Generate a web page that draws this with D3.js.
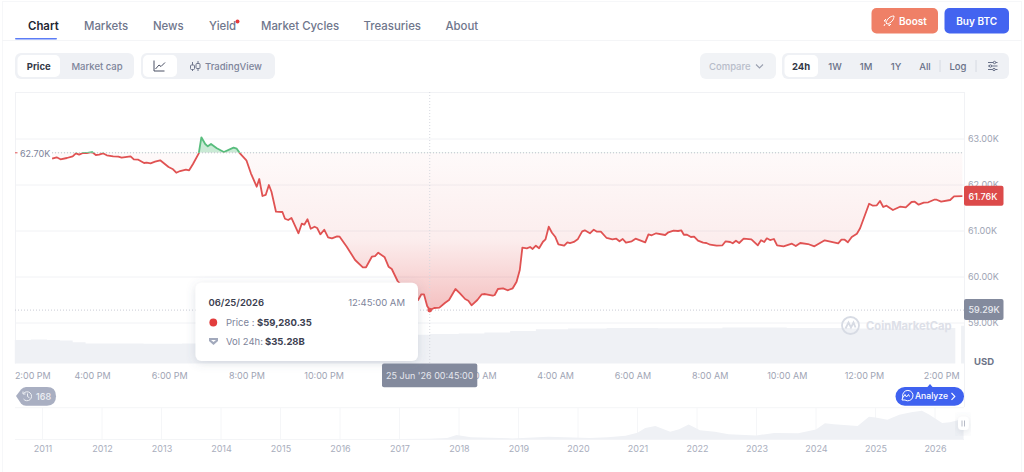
<!DOCTYPE html>
<html>
<head>
<meta charset="utf-8">
<title>Bitcoin price, 24h</title>
<script src="https://cdn.jsdelivr.net/npm/d3@7/dist/d3.min.js"></script>
<style>
  html, body { margin: 0; padding: 0; background: #fff; }
  svg { display: block; font-family: Inter, "Noto Sans", sans-serif; }
  .axis path, .axis line { display: none; }
</style>
</head>
<body>
<svg id="chart" width="1024" height="472"></svg>
<script>
// Minutes after 2:00 PM on 24 Jun 2026, with the USD price at each of them.
const priceMinutes = [58,65,71,81,90,95,100,106,113,120,126,131,137,143,153,161,166,180,185,192,201,205,211,218,226,239,246,251,257,266,271,277,286,290,296,300,305,314,325,340,345,350,360,367,376,380,385,390,395,399,406,416,420,425,430,441,446,450,455,460,466,470,475,481,487,493,501,505,516,529,541,546,555,560,565,575,581,586,595,602,611,619,627,632,636,641,645,652,660,669,675,685,692,700,705,710,719,726,731,743,746,751,759,766,774,780,785,789,796,801,805,810,815,821,825,830,835,840,845,854,859,863,869,875,882,886,894,900,905,911,920,929,935,940,945,950,959,965,980,985,990,997,1011,1016,1024,1031,1036,1040,1045,1051,1056,1062,1070,1075,1081,1091,1100,1105,1112,1116,1121,1126,1133,1145,1155,1160,1165,1169,1174,1180,1185,1195,1208,1214,1221,1233,1243,1259,1280,1285,1290,1295,1301,1309,1314,1328,1334,1340,1345,1350,1355,1365,1376,1385,1394,1399,1405,1413,1420,1429,1433,1440,1454,1460,1473];
const priceValues = [62572,62602,62559,62587,62624,62689,62659,62696,62696,62717,62652,62659,62689,62646,62624,62615,62593,62624,62559,62550,62478,62485,62472,62506,62537,62391,62341,62267,62304,62333,62320,62457,62689,63037,62891,62841,62891,62798,62717,62811,62789,62689,62537,62254,61963,62130,61761,61783,62000,61854,61420,61413,61267,61239,61283,60950,61159,61137,61254,61050,61093,61065,60928,61028,60863,60841,60885,60876,60659,60369,60211,60211,60441,60456,60528,60428,60224,60174,59913,59804,59587,59674,59500,59624,59624,59369,59280.35,59326,59333,59441,59500,59739,59646,59522,59485,59385,59500,59624,59630,59593,59609,59739,59754,59711,59754,59898,60152,60637,60624,60652,60609,60680,60624,60767,60819,61093,60963,60876,60711,60680,60754,60739,60761,60819,60993,61015,60950,61028,60985,60985,60848,60819,60833,60776,60826,60746,60776,60833,60754,60928,60907,60950,60913,60972,61007,61000,61015,60919,60919,60870,60876,60789,60746,60739,60702,60680,60689,60776,60761,60733,60789,60739,60833,60819,60689,60798,60761,60841,60804,60826,60689,60667,60724,60674,60739,60717,60667,60798,60733,60811,60811,60754,60870,60941,61059,61593,61550,61559,61652,61522,61550,61456,61528,61515,61630,61637,61572,61615,61624,61680,61680,61637,61674,61754,61760];

// 24h volume in billions of USD; the null leaves the short gap before the live bar.
const volumeMinutes = [0,25,50,70,90,110,150,200,260,320,400,500,600,645,690,730,770,810,860,920,1000,1100,1200,1300,1400,1462,1463,1471,1476];
const volumeValues = [28.1,28.6,28.1,27.5,25.5,23.9,23.9,23.5,24,26,30,32.5,34.5,35.28,36,37,39,41,42,42.5,42.3,43,42.5,42,42.5,42.8,null,45,45];

// Long-run price history for the navigator, in thousands of USD by decimal year.
const historyYears = [2010.55,2013.9,2014.5,2016.5,2017,2017.5,2017.8,2017.96,2018.2,2018.9,2019.5,2020.2,2020.5,2020.8,2021,2021.13,2021.3,2021.55,2021.7,2021.86,2022.05,2022.3,2022.53,2023,2023.3,2023.7,2024,2024.15,2024.3,2024.7,2024.89,2025,2025.2,2025.4,2025.6,2025.78,2025.9,2026.12,2026.25,2026.48];
const historyValues = [0.1,0.9,0.6,0.7,1,2.6,6,19,9,3.8,11,6,9,15,29,49,58,33,44,65,40,33,22,17,28,26,43,70,66,58,99,95,85,107,118,125,108,71,74,90];

const baselinePrice = 62700;
const hoveredMinute = 645;
const hoveredPrice = 59280.35;
const latestPrice = 61760;

const priceTicks = [59000,60000,61000,62000,63000];
// Hours after 2:00 PM; midnight is left out because the time tag sits on top of it.
const timeTickHours = [0,2,4,6,8,12,14,16,18,20,22,24];
const historyTicks = d3.range(2011, 2027);

const navItems = ["Chart","Markets","News","Yield","Market Cycles","Treasuries","About"];
const navOffsets = [28,84,153,209,261,363.5,445.5];
const rangeItems = ["24h","1W","1M","1Y","All","Log"];
const rangeCentres = [801,835,866,896,925,958];

const INK = "#222531", MUTED = "#7d849a", AXIS = "#9ea4b4", LINE = "#f1f2f5";
const RED = "#e05252", GREEN = "#58bd7d", SLATE = "#838a9d";

const svg = d3.select("#chart");
const plotLeft = 15, plotRight = 964, plotTop = 92, plotBottom = 363.5;

const startOfDay = Date.UTC(2026, 5, 24, 14);
const atMinute = m => new Date(startOfDay + m * 60000);
const x = d3.scaleUtc().domain([atMinute(0), atMinute(1478)]).range([14.8, 965.6]);
const y = d3.scaleLinear().domain([59000, 63000]).range([323, 139]);
const yVol = d3.scaleLinear().domain([0, 35.28]).range([plotBottom, 334]);
const xYear = d3.scaleLinear().domain([2011, 2026]).range([42.5, 935]);
const yHist = d3.scaleLinear().domain([0, 125]).range([439.3, 410.7]);

const series = priceMinutes.map((m, i) => ({ t: atMinute(m), v: priceValues[i] }));
const volume = volumeMinutes.map((m, i) => ({ t: atMinute(m), v: volumeValues[i] }));
const longRun = historyYears.map((yr, i) => ({ yr, v: historyValues[i] }));

function label(g, str, px, py, opts = {}) {
  return g.append("text").attr("x", px).attr("y", py).text(str)
    .attr("font-size", opts.size || 10)
    .attr("font-weight", opts.weight || 400)
    .attr("fill", opts.fill || MUTED)
    .attr("text-anchor", opts.anchor || "start")
    .attr("dominant-baseline", "central");
}
function box(g, x0, y0, x1, y1, fill, r) {
  return g.append("rect").attr("x", x0).attr("y", y0)
    .attr("width", x1 - x0).attr("height", y1 - y0).attr("rx", r).attr("fill", fill);
}
function rule(g, x0, y0, x1, y1, stroke, dash) {
  return g.append("line").attr("x1", x0).attr("y1", y0).attr("x2", x1).attr("y2", y1)
    .attr("stroke", stroke).attr("stroke-dasharray", dash || null);
}

const defs = svg.append("defs");
const shadow = defs.append("filter").attr("id", "soft").attr("x", "-20%").attr("y", "-30%").attr("width", "140%").attr("height", "170%");
shadow.append("feDropShadow").attr("dx", 0).attr("dy", 2).attr("stdDeviation", 5).attr("flood-color", "#58667e").attr("flood-opacity", 0.2);

const redFade = defs.append("linearGradient").attr("id", "redFade")
  .attr("gradientUnits", "userSpaceOnUse")
  .attr("x1", 0).attr("x2", 0).attr("y1", y(baselinePrice)).attr("y2", y(hoveredPrice));
redFade.append("stop").attr("offset", 0).attr("stop-color", "#e04f4f").attr("stop-opacity", 0.03);
redFade.append("stop").attr("offset", 0.55).attr("stop-color", "#e04f4f").attr("stop-opacity", 0.1);
redFade.append("stop").attr("offset", 1).attr("stop-color", "#e04f4f").attr("stop-opacity", 0.36);

defs.append("clipPath").attr("id", "belowBase").append("rect")
  .attr("x", plotLeft).attr("y", y(baselinePrice)).attr("width", plotRight - plotLeft).attr("height", plotBottom - y(baselinePrice));
defs.append("clipPath").attr("id", "aboveBase").append("rect")
  .attr("x", plotLeft).attr("y", plotTop).attr("width", plotRight - plotLeft).attr("height", y(baselinePrice) - plotTop);

// Page frame and header
const page = svg.append("g");
rule(page, 2.5, 1, 2.5, 472, "#f6f7f9");
rule(page, 1021.5, 1, 1021.5, 472, "#f6f7f9");
rule(page, 2, 1.5, 1022, 1.5, "#f6f7f9");
rule(page, 2, 40.5, 1022, 40.5, "#f4f5f7");

navItems.forEach((name, i) => {
  label(page, name, navOffsets[i], 26, { size: 11.4, weight: i ? 500 : 600, fill: i ? "#6f768c" : INK });
});
box(page, 15, 38, 57, 39.6, "#5b7cf6", 0.8);
page.append("circle").attr("cx", 237.5).attr("cy", 21.5).attr("r", 2).attr("fill", "#e5383b");

box(page, 871.5, 8, 938, 33.5, "#ef8067", 5);
label(page, "Boost", 899, 21, { size: 10, weight: 600, fill: "#fff" });
const rocket = page.append("g").attr("transform", "translate(889,21)").attr("fill", "none").attr("stroke", "#fff").attr("stroke-width", 1);
rocket.append("path").attr("d", "M-3 2 C-2 -2 1 -5 5 -5 C5 -1 2 2 -2 3 Z M-3 0 L-5 0 L-3 -2 M0 3 L0 5 L2 3 M-4 3 L-5 5");
box(page, 944.5, 8, 1009, 33.5, "#4364f0", 5);
label(page, "Buy BTC", 976.7, 21, { size: 10, weight: 600, fill: "#fff", anchor: "middle" });

// Toolbar
box(page, 15, 53, 134, 79, "#eff1f5", 6);
box(page, 17.5, 55, 60, 77, "#fff", 5);
label(page, "Price", 38.7, 66, { size: 9.5, weight: 700, fill: "#333846", anchor: "middle" });
label(page, "Market cap", 97, 66, { size: 9.5, weight: 500, anchor: "middle" });

box(page, 141, 53, 275, 79, "#eff1f5", 6);
box(page, 143, 55, 177, 77, "#fff", 5);
page.append("path").attr("d", "M154 60.5 V71 H164.5 M155.5 69 L159 65 L161 66.5 L165 62.5").attr("fill", "none").attr("stroke", "#4a5064").attr("stroke-width", 1);
const candles = page.append("g").attr("fill", "none").attr("stroke", "#6f768c").attr("stroke-width", 1);
candles.append("path").attr("d", "M192.5 62 V71 M198 61 V71");
candles.append("rect").attr("x", 190.5).attr("y", 65).attr("width", 4).attr("height", 4.5).attr("rx", 1).attr("fill", "#eff1f5");
candles.append("rect").attr("x", 196).attr("y", 63.5).attr("width", 4).attr("height", 5).attr("rx", 1).attr("fill", "#eff1f5");
label(page, "TradingView", 205, 66, { size: 9.5, weight: 500 });

box(page, 700, 53, 776, 79, "#f1f3f6", 6);
label(page, "Compare", 709, 66, { size: 9.5, weight: 500, fill: "#b8bdca" });
page.append("path").attr("d", "M756 64.5 L759.5 68 L763 64.5").attr("fill", "none").attr("stroke", "#9aa0b0").attr("stroke-width", 1.1);

box(page, 782, 53, 1009, 79, "#eff1f5", 6);
box(page, 784.5, 55, 818, 77, "#fff", 5);
rangeItems.forEach((name, i) => {
  label(page, name, rangeCentres[i], 66, { size: 9.5, weight: i ? 500 : 700, fill: i ? "#687087" : "#333846", anchor: "middle" });
});
rule(page, 940, 60, 940, 72, "#d6dae2");
rule(page, 976, 60, 976, 72, "#d6dae2");
const sliders = page.append("g").attr("stroke", "#687087").attr("stroke-width", 1).attr("fill", "#eff1f5");
[62.5, 66, 69.5].forEach((py, i) => {
  rule(sliders, 988, py, 997.5, py, "#687087");
  sliders.append("circle").attr("cx", [994.5, 990.5, 994][i]).attr("cy", py).attr("r", 1.2);
});

// Plot frame and price grid
const plot = svg.append("g");
rule(plot, plotLeft, plotTop + 0.5, plotRight, plotTop + 0.5, LINE);
rule(plot, plotLeft + 0.5, plotTop, plotLeft + 0.5, plotBottom, LINE);
rule(plot, plotRight + 0.5, plotTop, plotRight + 0.5, 407, LINE);
plot.selectAll("line.grid").data(priceTicks).join("line").attr("class", "grid")
  .attr("x1", plotLeft).attr("x2", plotRight)
  .attr("y1", d => y(d)).attr("y2", d => y(d)).attr("stroke", LINE);

// Volume
plot.append("path").datum(volume)
  .attr("fill", "#eff1f5")
  .attr("d", d3.area().defined(d => d.v !== null).curve(d3.curveStepAfter)
    .x(d => x(d.t)).y0(plotBottom).y1(d => yVol(d.v)));

// Area between the price and the opening level, split at that level
const baseArea = d3.area().x(d => x(d.t)).y0(y(baselinePrice)).y1(d => y(d.v));
const priceLine = d3.line().x(d => x(d.t)).y(d => y(d.v));
plot.append("path").datum(series).attr("d", baseArea).attr("fill", "url(#redFade)").attr("clip-path", "url(#belowBase)");
plot.append("path").datum(series).attr("d", baseArea).attr("fill", GREEN).attr("fill-opacity", 0.32).attr("clip-path", "url(#aboveBase)");

// Watermark sits under the line work
const logo = plot.append("g").attr("transform", "translate(850.5,325.5)").attr("fill", "none").attr("stroke", "#d7dbe4").attr("stroke-width", 1.8);
logo.append("circle").attr("r", 8.5);
logo.append("path").attr("d", "M-5 3 L-2 -3 L0.5 2 L3 -3 L5 2");
label(plot, "CoinMarketCap", 866, 326, { size: 11.2, weight: 700, fill: "#dde0e8" });

// Opening level and crosshair
rule(plot, 52, y(baselinePrice), plotRight, y(baselinePrice), "#bcc0ca", "1 2");
rule(plot, plotLeft, y(hoveredPrice), plotRight, y(hoveredPrice), "#c9ccd5", "1 2");
rule(plot, x(atMinute(hoveredMinute)), plotTop, x(atMinute(hoveredMinute)), plotBottom, "#d5d8df", "1 2");
rule(plot, plotLeft, y(baselinePrice), plotLeft + 2.5, y(baselinePrice), RED);
label(plot, "62.70K", 20, y(baselinePrice) + 1, { size: 9, fill: MUTED });

plot.append("path").datum(series).attr("d", priceLine).attr("fill", "none")
  .attr("stroke", RED).attr("stroke-width", 1.8).attr("stroke-linejoin", "round")
  .attr("clip-path", "url(#belowBase)");
plot.append("path").datum(series).attr("d", priceLine).attr("fill", "none")
  .attr("stroke", GREEN).attr("stroke-width", 1.8).attr("stroke-linejoin", "round")
  .attr("clip-path", "url(#aboveBase)");
plot.append("circle").attr("cx", x(atMinute(hoveredMinute))).attr("cy", y(hoveredPrice)).attr("r", 2.4).attr("fill", RED);

// Axes
const yAxis = svg.append("g").attr("class", "axis").attr("transform", `translate(${plotRight},0)`)
  .call(d3.axisRight(y).tickValues(priceTicks).tickSize(0).tickPadding(4)
    .tickFormat(d => d3.format(".2f")(d / 1000) + "K"));
yAxis.selectAll("text").attr("font-size", 9).attr("fill", AXIS);
yAxis.attr("font-family", null);

const xAxis = svg.append("g").attr("class", "axis").attr("transform", "translate(0,372.5)")
  .call(d3.axisBottom(x).tickValues(timeTickHours.map(h => atMinute(h * 60))).tickSize(0).tickPadding(0)
    .tickFormat(d3.utcFormat("%-I:%M %p")));
xAxis.attr("font-family", null);
xAxis.selectAll("text").attr("font-size", 9).attr("fill", AXIS).attr("dy", "0.71em");
xAxis.selectAll(".tick text").filter((d, i) => i === 0).attr("dx", 17.5);

label(svg, "USD", 974, 361.5, { size: 9.5, weight: 700, fill: "#6d7488" });

// Current and hovered price tags
box(svg, 964, 185.7, 1003.5, 205.7, "#dc4a4a", 2);
label(svg, d3.format(".2f")(latestPrice / 1000) + "K", 968.5, y(latestPrice), { size: 9, weight: 500, fill: "#fff" });
box(svg, 964, 299, 1003.5, 320, SLATE, 2);
label(svg, "59.29K", 968.5, 309.7, { size: 9, weight: 500, fill: "#e9ebf0" });

// Hovered time tag
box(svg, 382, 363.5, 477.3, 387.3, SLATE, 2);
label(svg, "25 Jun '26 00:45:00", 429.7, 375.3, { size: 9, fill: "#e6e8ee", anchor: "middle" });

// Tooltip
const tip = svg.append("g");
box(tip, 195.5, 282.7, 418, 361, "#fff", 6).attr("filter", "url(#soft)");
label(tip, "06/25/2026", 208.5, 302.5, { size: 9.5, weight: 600, fill: "#3b4050" });
label(tip, "12:45:00 AM", 405, 302.5, { size: 9.5, fill: MUTED, anchor: "end" });
tip.append("circle").attr("cx", 213.3).attr("cy", 322.5).attr("r", 3.9).attr("fill", "#e23d3d");
label(tip, "Price :", 226, 322.5, { size: 9.5, fill: MUTED });
label(tip, "$" + d3.format(",.2f")(hoveredPrice), 257, 322.5, { size: 9.5, weight: 700, fill: "#3b4050" });
tip.append("path").attr("d", "M209 338 H218 V341 L213.5 345 L209 341 Z M211 340 H216 L213.5 342 Z")
  .attr("fill", "#a2a9bc").attr("fill-rule", "evenodd");
label(tip, "Vol 24h:", 226, 341.5, { size: 9.5, fill: MUTED });
label(tip, "$35.28B", 265, 341.5, { size: 9.5, weight: 700, fill: "#3b4050" });

// History and Analyze pills
const pill = svg.append("g");
pill.append("path").attr("d", "M16 396 L21 389.5 Q23 387 26 387 H47 Q56 387 56 396.3 Q56 405.7 47 405.7 H26 Q23 405.7 21 403.5 Z").attr("fill", "#a9afc2");
const clock = pill.append("g").attr("fill", "none").attr("stroke", "#eef0f4").attr("stroke-width", 1);
clock.append("path").attr("d", "M23.5 393.5 A4.5 4.5 0 1 1 23.5 399 M27.5 393.5 V396.5 L29.5 397.8 M23 391.5 V394 H25.5");
label(pill, "168", 36, 396.4, { size: 9, weight: 500, fill: "#eef0f4" });

box(pill, 895.5, 387, 964, 405.7, "#3f62f0", 9.3);
pill.append("path").attr("d", "M927 387.5 L930 384 L933 387.5 Z").attr("fill", "#3f62f0");
const spark = pill.append("g").attr("fill", "none").attr("stroke", "#fff").attr("stroke-width", 1);
spark.append("path").attr("d", "M902 400 L902.8 397 A5.2 5.2 0 1 1 905 400 Z M903 397.5 L905 394.5 L906.5 397 L908.5 394.5 L909.5 396.5");
label(pill, "Analyze", 915, 396.4, { size: 8.6, weight: 500, fill: "#fff" });
pill.append("path").attr("d", "M951.5 393 L954.8 396.4 L951.5 399.8").attr("fill", "none").attr("stroke", "#fff").attr("stroke-width", 1.1);

// Navigator
const navigator_ = svg.append("g");
rule(navigator_, plotLeft, 407.7, plotRight, 407.7, "#f4f5f7");
rule(navigator_, plotLeft, 439.5, plotRight, 439.5, "#f4f5f7");
navigator_.selectAll("line.year").data(historyTicks).join("line").attr("class", "year")
  .attr("x1", d => xYear(d)).attr("x2", d => xYear(d))
  .attr("y1", 407.7).attr("y2", 439.3).attr("stroke", "#f5f6f8");
navigator_.append("path").datum(longRun).attr("fill", "#eff1f5")
  .attr("d", d3.area().x(d => xYear(d.yr)).y0(yHist(0)).y1(d => yHist(d.v)));
const yearAxis = navigator_.append("g").attr("class", "axis").attr("transform", "translate(0,445.5)")
  .call(d3.axisBottom(xYear).tickValues(historyTicks).tickSize(0).tickPadding(0).tickFormat(d3.format("d")));
yearAxis.attr("font-family", null);
yearAxis.selectAll("text").attr("font-size", 9).attr("fill", "#a9aebd").attr("dy", "0.71em");

box(navigator_, 958, 416.7, 968.8, 430, "#fff", 4).attr("filter", "url(#soft)");
rule(navigator_, 962, 420.5, 962, 426.5, "#b6bac6");
rule(navigator_, 964.5, 420.5, 964.5, 426.5, "#b6bac6");
</script>
</body>
</html>
